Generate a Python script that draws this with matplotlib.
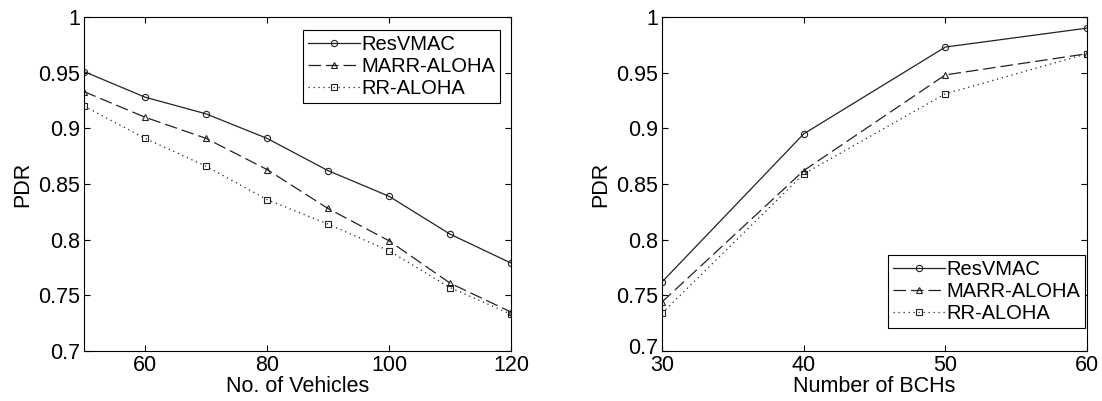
import matplotlib
matplotlib.use("Agg")
import matplotlib.pyplot as plt
import matplotlib.transforms as mtransforms

plt.rcParams['font.family'] = ['Liberation Sans', 'DejaVu Sans']

vehicles = [50, 60, 70, 80, 90, 100, 110, 120]
resvmac_v = [0.951, 0.928, 0.913, 0.891, 0.862, 0.839, 0.805, 0.779]
marr_v = [0.933, 0.910, 0.891, 0.863, 0.828, 0.799, 0.761, 0.735]
rr_v = [0.920, 0.891, 0.866, 0.836, 0.814, 0.790, 0.757, 0.733]

bchs = [30, 40, 50, 60]
resvmac_b = [0.762, 0.895, 0.973, 0.990]
marr_b = [0.744, 0.862, 0.948, 0.967]
rr_b = [0.734, 0.859, 0.931, 0.967]

labels = ['ResVMAC', 'MARR-ALOHA', 'RR-ALOHA']
styles = [('-', 'o'), ((0, (10, 4)), '^'), ((0, (1, 3)), 's')]

fig = plt.figure(figsize=(11.02, 4.01), dpi=100)
W, H = 1102, 401
ax1 = fig.add_axes([84 / W, 1 - 351 / H, (511 - 84) / W, (351 - 17) / H])
ax2 = fig.add_axes([662 / W, 1 - 351 / H, (1087 - 662) / W, (351 - 17) / H])

def draw(ax, x, series, xlabel, xticks, loc, anchor):
  for ys, lab, (ls, mk) in zip(series, labels, styles):
    ax.plot(x, ys, linestyle=ls, marker=mk, color='#222222', lw=0.9,
            markersize=4.5, markerfacecolor='none', markeredgewidth=0.8, label=lab)
  ax.set_xlim(x[0], x[-1])
  ax.set_ylim(0.7, 1.0)
  ax.set_xticks(xticks)
  ax.set_yticks([0.7, 0.75, 0.8, 0.85, 0.9, 0.95, 1.0])
  ax.set_yticklabels(['0.7', '0.75', '0.8', '0.85', '0.9', '0.95', '1'])
  ax.tick_params(direction='in', top=True, right=True, labelsize=15.5, length=4, width=0.8, pad=3)
  ax.set_xlabel(xlabel, fontsize=15.5, labelpad=0)
  ax.set_ylabel('PDR', fontsize=15.5, labelpad=3)
  for s in ax.spines.values():
    s.set_linewidth(0.8)
  leg = ax.legend(loc=loc, bbox_to_anchor=anchor, fontsize=14.5, fancybox=False, framealpha=1,
                  edgecolor='black', handlelength=2.6, handletextpad=0.05,
                  borderpad=0.25, labelspacing=0.15, borderaxespad=0)
  leg.get_frame().set_linewidth(0.8)

draw(ax1, vehicles, [resvmac_v, marr_v, rr_v], 'No. of Vehicles', [60, 80, 100, 120],
     'upper right', (1 - 11 / 427, 1 - 13 / 334))
draw(ax2, bchs, [resvmac_b, marr_b, rr_b], 'Number of BCHs', [30, 40, 50, 60],
     'lower right', (1 - 2 / 425, 23 / 334))

# lift the bottom y label of the right panel so it clears the "30"
lbl = ax2.get_yticklabels()[0]
lbl.set_transform(lbl.get_transform() + mtransforms.ScaledTranslation(0, 5 / 100, fig.dpi_scale_trans))

fig.savefig('out.png', dpi=100)
